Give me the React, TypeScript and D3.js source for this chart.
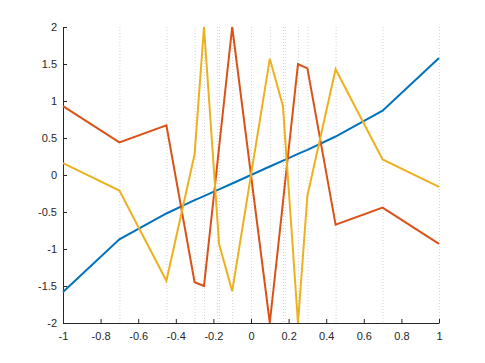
import React, { useRef, useEffect } from 'react';
import * as d3 from 'd3';

// x positions shared by all three series (also the dotted grid lines)
const xs = [-1, -0.7, -0.45, -0.3, -0.25, -0.18, -0.17, -0.1, 0, 0.1, 0.17, 0.18, 0.25, 0.3, 0.45, 0.7, 1];
const blueVals = [-1.58, -0.87, -0.52, -0.34, -0.285, -0.205, -0.195, -0.115, 0, 0.115, 0.195, 0.205, 0.285, 0.34, 0.52, 0.87, 1.58];
const orangeVals = [0.93, 0.44, 0.67, -1.45, -1.5, 0.13, 0.37, 2, 0, -2, -0.37, -0.13, 1.5, 1.44, -0.67, -0.44, -0.93];
const yellowVals = [0.16, -0.21, -1.43, 0.28, 2, -0.56, -0.93, -1.57, 0, 1.57, 0.93, 0.56, -2, -0.28, 1.43, 0.21, -0.16];
const xTicks = [-1, -0.8, -0.6, -0.4, -0.2, 0, 0.2, 0.4, 0.6, 0.8, 1];
const yTicks = [-2, -1.5, -1, -0.5, 0, 0.5, 1, 1.5, 2];

const App = () => {
  const svgRef = useRef<SVGSVGElement>(null);

  useEffect(() => {
    const width = 485, height = 363;
    const margin = { top: 27, right: 46, bottom: 40, left: 63 };
    const w = width - margin.left - margin.right;
    const h = height - margin.top - margin.bottom;

    const svg = d3.select(svgRef.current);
    svg.selectAll('*').remove();
    svg.attr('width', width).attr('height', height);

    const g = svg.append('g').attr('transform', `translate(${margin.left},${margin.top})`);

    const x = d3.scaleLinear().domain([-1, 1]).range([0, w]);
    const y = d3.scaleLinear().domain([-2, 2]).range([h, 0]);

    // dotted vertical grid at the sample points
    g.append('g')
      .selectAll('line')
      .data(xs)
      .join('line')
      .attr('x1', d => x(d) + 0.5)
      .attr('x2', d => x(d) + 0.5)
      .attr('y1', 0)
      .attr('y2', h)
      .attr('stroke', '#d4d4d4')
      .attr('stroke-width', 1)
      .attr('stroke-dasharray', '1 2');

    const fmt = (d: any) => String(d);

    // axes
    const xAxis = g.append('g')
      .attr('transform', `translate(0,${h})`)
      .call(d3.axisBottom(x).tickValues(xTicks).tickSizeInner(-4).tickSizeOuter(0).tickPadding(9).tickFormat(fmt));
    const yAxis = g.append('g')
      .call(d3.axisLeft(y).tickValues(yTicks).tickSizeInner(-4).tickSizeOuter(0).tickPadding(6).tickFormat(fmt));

    [xAxis, yAxis].forEach(a => {
      a.select('.domain').attr('stroke', '#262626');
      a.selectAll('.tick line').attr('stroke', '#262626');
      a.selectAll('text')
        .attr('fill', '#262626')
        .attr('font-family', 'Liberation Sans, Arial, sans-serif')
        .attr('font-size', 11);
    });

    const line = d3.line<number>()
      .x((_, i) => x(xs[i]))
      .y(d => y(d));

    const series = [
      { vals: blueVals, color: '#0072BD' },
      { vals: orangeVals, color: '#D95319' },
      { vals: yellowVals, color: '#EDB120' },
    ];

    series.forEach(s => {
      g.append('path')
        .datum(s.vals)
        .attr('fill', 'none')
        .attr('stroke', s.color)
        .attr('stroke-width', 2)
        .attr('d', line);
    });
  }, []);

  return (
    <svg ref={svgRef} style={{ display: 'block', position: 'absolute', left: 0, top: 0, background: '#fff' }}></svg>
  );
};

export default App;
